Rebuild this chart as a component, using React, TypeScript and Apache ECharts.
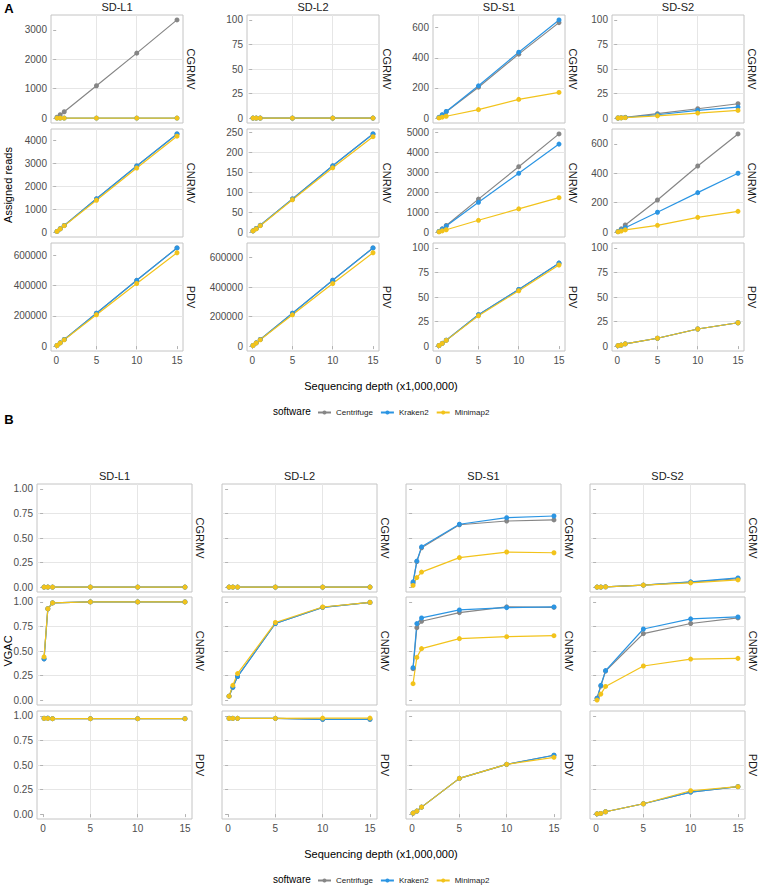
import React, { useEffect, useRef } from 'react';
import * as echarts from 'echarts';

// ---------- categories ----------
const depth = [0.1, 0.5, 1, 5, 10, 15];
const samples = ['SD-L1', 'SD-L2', 'SD-S1', 'SD-S2'];
const viruses = ['CGRMV', 'CNRMV', 'PDV'];
const software = ['Centrifuge', 'Kraken2', 'Minimap2'];
const softwareColors = ['#868686', '#2B95E3', '#F2C31B'];
const depthTicks = [0, 5, 10, 15];
const vgacTicks = [0, 0.25, 0.5, 0.75, 1];

// ---------- Panel A: assigned reads, rows = software (Centrifuge, Kraken2, Minimap2) ----------
const readsL1CGRMV = [
  [30, 115, 215, 1100, 2210, 3340],
  [0, 0, 0, 0, 0, 0],
  [0, 0, 0, 0, 0, 0],
];
const readsL1CNRMV = [
  [30, 145, 290, 1455, 2890, 4290],
  [30, 145, 290, 1455, 2890, 4290],
  [28, 140, 280, 1390, 2800, 4190],
];
const readsL1PDV = [
  [4300, 21700, 43400, 217000, 434000, 648000],
  [4300, 21700, 43400, 217000, 434000, 648000],
  [4100, 20700, 41300, 207000, 413000, 616000],
];
const readsL2CGRMV = [
  [0, 0, 0, 0, 0, 0],
  [0, 0, 0, 0, 0, 0],
  [0, 0, 0, 0, 0, 0],
];
const readsL2CNRMV = [
  [3, 9, 17, 83, 166, 246],
  [3, 9, 17, 83, 166, 246],
  [3, 8, 16, 81, 161, 239],
];
const readsL2PDV = [
  [4500, 22300, 44700, 223000, 447000, 666000],
  [4500, 22300, 44700, 223000, 447000, 666000],
  [4200, 21200, 42400, 212000, 424000, 633000],
];
const readsS1CGRMV = [
  [4, 20, 42, 205, 424, 633],
  [5, 22, 44, 214, 437, 651],
  [1, 6, 12, 56, 124, 170],
];
const readsS1CNRMV = [
  [33, 165, 330, 1650, 3270, 4910],
  [30, 150, 300, 1490, 2940, 4400],
  [12, 60, 118, 590, 1160, 1720],
];
const readsS1PDV = [
  [0.6, 2.8, 6, 31.9, 57.6, 84.5],
  [0.6, 2.8, 6, 31.9, 57.6, 84.5],
  [0.6, 2.7, 5.8, 30.9, 56.4, 82.6],
];
const readsS2CGRMV = [
  [0.1, 0.4, 0.8, 4.5, 9.5, 14.6],
  [0.1, 0.3, 0.6, 3.4, 7.9, 11.2],
  [0.1, 0.2, 0.4, 2.3, 5.1, 7.8],
];
const readsS2CNRMV = [
  [4, 22, 48, 218, 449, 667],
  [3, 14, 30, 135, 268, 400],
  [2, 7, 15, 46, 100, 141],
];
const readsS2PDV = [
  [0.5, 1, 2.3, 8, 17.4, 23.8],
  [0.5, 1, 2.3, 8, 17.4, 23.8],
  [0.5, 1, 2.3, 8, 17.4, 23.8],
];

const readTicksCGRMV = [[0, 1000, 2000, 3000], [0, 25, 50, 75, 100], [0, 200, 400, 600], [0, 25, 50, 75, 100]];
const readTicksCNRMV = [[0, 1000, 2000, 3000, 4000], [0, 50, 100, 150, 200, 250], [0, 1000, 2000, 3000, 4000, 5000], [0, 200, 400, 600]];
const readTicksPDV = [[0, 200000, 400000, 600000], [0, 200000, 400000, 600000], [0, 25, 50, 75, 100], [0, 25, 50, 75, 100]];

// ---------- Panel B: VGAC ----------
const vgacL1CGRMV = [
  [0, 0, 0, 0, 0, 0],
  [0, 0, 0, 0, 0, 0],
  [0, 0, 0, 0, 0, 0],
];
const vgacL1CNRMV = [
  [0.42, 0.93, 0.99, 1.0, 1.0, 1.0],
  [0.42, 0.93, 0.99, 1.0, 1.0, 1.0],
  [0.44, 0.93, 0.99, 1.0, 1.0, 1.0],
];
const vgacL1PDV = [
  [0.975, 0.975, 0.972, 0.972, 0.972, 0.972],
  [0.975, 0.978, 0.972, 0.972, 0.972, 0.972],
  [0.975, 0.975, 0.972, 0.972, 0.972, 0.972],
];
const vgacL2CGRMV = [
  [0, 0, 0, 0, 0, 0],
  [0, 0, 0, 0, 0, 0],
  [0, 0, 0, 0, 0, 0],
];
const vgacL2CNRMV = [
  [0.04, 0.13, 0.24, 0.78, 0.945, 0.995],
  [0.04, 0.13, 0.24, 0.78, 0.945, 0.995],
  [0.04, 0.15, 0.27, 0.79, 0.948, 0.995],
];
const vgacL2PDV = [
  [0.975, 0.975, 0.975, 0.975, 0.965, 0.965],
  [0.975, 0.975, 0.975, 0.975, 0.965, 0.965],
  [0.975, 0.975, 0.975, 0.975, 0.978, 0.978],
];
const vgacS1CGRMV = [
  [0.04, 0.26, 0.4, 0.635, 0.673, 0.684],
  [0.053, 0.265, 0.41, 0.64, 0.707, 0.724],
  [0.017, 0.097, 0.153, 0.3, 0.357, 0.35],
];
const vgacS1CNRMV = [
  [0.32, 0.738, 0.803, 0.891, 0.95, 0.945],
  [0.33, 0.779, 0.837, 0.918, 0.942, 0.949],
  [0.167, 0.435, 0.524, 0.626, 0.646, 0.656],
];
const vgacS1PDV = [
  [0.01, 0.031, 0.071, 0.364, 0.507, 0.599],
  [0.01, 0.031, 0.071, 0.364, 0.507, 0.599],
  [0.01, 0.031, 0.071, 0.364, 0.507, 0.578],
];
const vgacS2CGRMV = [
  [0, 0, 0.003, 0.02, 0.05, 0.085],
  [0, 0, 0.003, 0.02, 0.053, 0.093],
  [0, 0, 0.003, 0.02, 0.043, 0.073],
];
const vgacS2CNRMV = [
  [0.02, 0.143, 0.296, 0.677, 0.78, 0.837],
  [0.017, 0.15, 0.3, 0.724, 0.827, 0.847],
  [0, 0.061, 0.139, 0.347, 0.418, 0.425],
];
const vgacS2PDV = [
  [0.003, 0.007, 0.024, 0.105, 0.224, 0.28],
  [0.003, 0.007, 0.024, 0.105, 0.224, 0.28],
  [0.003, 0.007, 0.024, 0.105, 0.238, 0.279],
];

const readsPanels = [
  [readsL1CGRMV, readsL2CGRMV, readsS1CGRMV, readsS2CGRMV],
  [readsL1CNRMV, readsL2CNRMV, readsS1CNRMV, readsS2CNRMV],
  [readsL1PDV, readsL2PDV, readsS1PDV, readsS2PDV],
];
const readTicks = [readTicksCGRMV, readTicksCNRMV, readTicksPDV];
const vgacPanels = [
  [vgacL1CGRMV, vgacL2CGRMV, vgacS1CGRMV, vgacS2CGRMV],
  [vgacL1CNRMV, vgacL2CNRMV, vgacS1CNRMV, vgacS2CNRMV],
  [vgacL1PDV, vgacL2PDV, vgacS1PDV, vgacS2PDV],
];

// ---------- layout ----------
const FONT = '"Liberation Sans", Arial, Helvetica, sans-serif';
const A_LEFT = [51, 247, 433, 612];
const A_TOP = [15, 129, 243];
const A_W = 132;
const A_H = 108;
const B_LEFT = [37, 222, 406, 590];
const B_TOP = [484, 597, 711];
const B_W = 155;
const B_H = 108;

function buildOption() {
  const grid: any[] = [];
  const xAxis: any[] = [];
  const yAxis: any[] = [];
  const series: any[] = [];
  const graphic: any[] = [];

  const xSpan = depth[depth.length - 1] - depth[0];
  const xMin = depth[0] - 0.05 * xSpan;
  const xMax = depth[depth.length - 1] + 0.05 * xSpan;

  const text = (x: number, y: number, t: string, size: number, opts: any = {}) => {
    graphic.push({
      type: 'text',
      x,
      y,
      rotation: opts.rotation || 0,
      silent: true,
      style: {
        text: t,
        fill: opts.color || '#1a1a1a',
        font: `${opts.bold ? 'bold ' : ''}${size}px ${FONT}`,
        textAlign: opts.align || 'center',
        textVerticalAlign: 'middle',
        align: opts.align || 'center',
        verticalAlign: 'middle',
      },
    });
  };

  const block = (isA: boolean) => {
    const lefts = isA ? A_LEFT : B_LEFT;
    const tops = isA ? A_TOP : B_TOP;
    const W = isA ? A_W : B_W;
    const H = isA ? A_H : B_H;
    for (let r = 0; r < 3; r++) {
      for (let c = 0; c < 4; c++) {
        const idx = grid.length;
        grid.push({
          left: lefts[c],
          top: tops[r],
          width: W,
          height: H,
          show: true,
          borderColor: '#c4c4c4',
          borderWidth: 1,
          backgroundColor: 'transparent',
        });
        const bottomRow = r === 2;
        xAxis.push({
          type: 'value',
          gridIndex: idx,
          min: xMin,
          max: xMax,
          minInterval: 5,
          maxInterval: 5,
          axisLine: { show: false },
          axisTick: {
            show: bottomRow,
            length: 3,
            customValues: depthTicks,
            lineStyle: { color: '#b3b3b3', width: 1 },
          },
          axisLabel: {
            show: bottomRow,
            customValues: depthTicks,
            fontSize: 10,
            color: '#4d4d4d',
            fontFamily: FONT,
            margin: 4,
            formatter: (v: number) => String(v),
          },
          splitLine: {
            show: true,
            showMinLine: false,
            showMaxLine: false,
            lineStyle: { color: '#e6e6e6', width: 1 },
          },
        });
        let ticks: number[];
        let yMin: number;
        let yMax: number;
        let vals: number[][];
        if (isA) {
          vals = readsPanels[r][c];
          ticks = readTicks[r][c];
          let m = 100;
          vals.forEach((s) => s.forEach((v) => { if (v > m) m = v; }));
          yMin = -0.05 * m;
          yMax = 1.05 * m;
        } else {
          vals = vgacPanels[r][c];
          ticks = vgacTicks;
          yMin = -0.05;
          yMax = 1.05;
        }
        const step = ticks[1] - ticks[0];
        yAxis.push({
          type: 'value',
          gridIndex: idx,
          min: yMin,
          max: yMax,
          minInterval: step,
          maxInterval: step,
          axisLine: { show: false },
          axisTick: {
            show: true,
            length: 3,
            customValues: ticks,
            lineStyle: { color: '#b3b3b3', width: 1 },
          },
          axisLabel: {
            show: isA || c === 0,
            customValues: ticks,
            fontSize: 10,
            color: '#4d4d4d',
            fontFamily: FONT,
            margin: 4,
            formatter: (v: number) => (isA ? String(Math.round(v)) : v.toFixed(2)),
          },
          splitLine: {
            show: true,
            showMinLine: false,
            showMaxLine: false,
            lineStyle: { color: '#e6e6e6', width: 1 },
          },
        });
        for (let s = 0; s < software.length; s++) {
          series.push({
            type: 'line',
            name: software[s],
            xAxisIndex: idx,
            yAxisIndex: idx,
            data: depth.map((d, i) => [d, vals[s][i]]),
            symbol: 'circle',
            symbolSize: 5,
            showSymbol: true,
            silent: true,
            color: softwareColors[s],
            lineStyle: { width: 1.2, color: softwareColors[s] },
            itemStyle: { color: softwareColors[s] },
          });
        }
        // strip label (right side)
        text(lefts[c] + W + 8, tops[r] + H / 2, viruses[r], 11, { rotation: -Math.PI / 2 });
        // column titles
        if (r === 0) text(lefts[c] + W / 2, tops[0] - 8, samples[c], 11);
      }
    }
  };

  block(true);
  block(false);

  text(9, 8, 'A', 13, { bold: true, color: '#000' });
  text(9, 419, 'B', 13, { bold: true, color: '#000' });
  text(8, 185, 'Assigned reads', 11, { rotation: Math.PI / 2, color: '#000' });
  text(8, 651, 'VGAC', 11, { rotation: Math.PI / 2, color: '#000' });
  text(381, 386, 'Sequencing depth (x1,000,000)', 11, { color: '#000' });
  text(381, 854, 'Sequencing depth (x1,000,000)', 11, { color: '#000' });
  text(273, 411, 'software', 10, { align: 'left', color: '#000' });
  text(273, 879, 'software', 10, { align: 'left', color: '#000' });

  const legendBase = {
    left: 317,
    orient: 'horizontal',
    itemWidth: 13,
    itemHeight: 5,
    itemGap: 7,
    padding: 0,
    selectedMode: false,
    data: software,
    textStyle: { fontSize: 8, color: '#1a1a1a', fontFamily: FONT, padding: [0, 0, 0, 0] },
  };

  return {
    animation: false,
    backgroundColor: '#ffffff',
    textStyle: { fontFamily: FONT },
    grid,
    xAxis,
    yAxis,
    series,
    legend: [
      { ...legendBase, top: 408.5 },
      { ...legendBase, top: 876.5 },
    ],
    graphic,
  };
}

export default function App() {
  const ref = useRef<HTMLDivElement>(null);
  useEffect(() => {
    if (!ref.current) return;
    const chart = echarts.init(ref.current, undefined, { renderer: 'svg' });
    chart.setOption(buildOption() as any);
    return () => chart.dispose();
  }, []);
  return (
    <div
      ref={ref}
      style={{ position: 'fixed', left: 0, top: 0, width: 758, height: 885, background: '#fff' }}
    />
  );
}
